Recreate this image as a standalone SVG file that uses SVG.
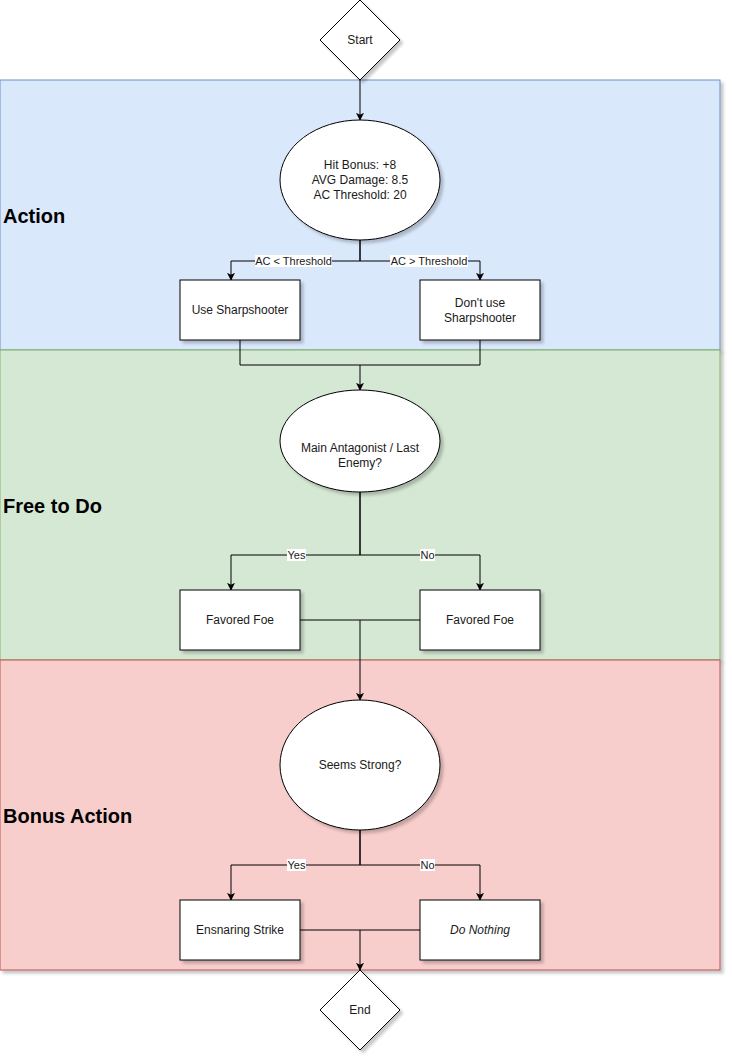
<svg xmlns="http://www.w3.org/2000/svg" width="732" height="1062" viewBox="0 0 732 1062">
<defs>
<filter id="sh" x="-10%" y="-10%" width="130%" height="130%">
<feDropShadow dx="3" dy="3" stdDeviation="1.5" flood-color="#000" flood-opacity="0.22"/>
</filter>
<marker id="arr" viewBox="0 0 10 10" refX="9" refY="5" markerWidth="8" markerHeight="8" markerUnits="userSpaceOnUse" orient="auto">
<path d="M0,0 L10,5 L0,10 L2.5,5 Z" fill="#000"/>
</marker>
</defs>
<style>
.t{font-family:"Liberation Sans",Arial,Helvetica,sans-serif;font-size:12px;fill:#1a1a1a;text-anchor:middle;dominant-baseline:central}
.lbl{font-family:"Liberation Sans",Arial,Helvetica,sans-serif;font-size:11px;fill:#1a1a1a;text-anchor:middle;dominant-baseline:central}
.lane{font-family:"Liberation Sans",Arial,Helvetica,sans-serif;font-size:20px;font-weight:bold;fill:#000;dominant-baseline:central}
.n{fill:#fff;stroke:#000;stroke-width:1;filter:url(#sh)}
.e{fill:none;stroke:#000;stroke-width:1}
.ea{fill:none;stroke:#000;stroke-width:1;marker-end:url(#arr)}
.bg{fill:#fff}
</style>
<g id="lanes">
<g id="lane-action">
<rect x="0" y="80" width="720" height="270" fill="#dae8fc" stroke="#6c8ebf" filter="url(#sh)"/>
<text class="lane" x="3" y="216">Action</text>
</g>
<g id="lane-free">
<rect x="0" y="350" width="720" height="310" fill="#d5e8d4" stroke="#82b366" filter="url(#sh)"/>
<text class="lane" x="3" y="506">Free to Do</text>
</g>
<g id="lane-bonus">
<rect x="0" y="660" width="720" height="310" fill="#f8cecc" stroke="#b85450" filter="url(#sh)"/>
<text class="lane" x="3" y="816">Bonus Action</text>
</g>
</g>
<g id="connectors">
<path class="ea" d="M360,80 L360,120"/>
<path class="ea" d="M360,240 L360,261 L231,261 L231,280"/>
<path class="ea" d="M360,240 L360,261 L480,261 L480,280"/>
<rect class="bg" x="255" y="255" width="77" height="12"/>
<text class="lbl" x="293.5" y="261">AC &lt; Threshold</text>
<rect class="bg" x="390" y="255" width="78" height="12"/>
<text class="lbl" x="429" y="261">AC &gt; Threshold</text>
<path class="e" d="M240,340 L240,365 L360,365"/>
<path class="ea" d="M480,340 L480,365 L360,365 L360,390"/>
<path class="ea" d="M360,490 L360,555 L231,555 L231,590"/>
<path class="ea" d="M360,490 L360,555 L480,555 L480,590"/>
<rect class="bg" x="287" y="549" width="19" height="12"/>
<text class="lbl" x="296.5" y="555">Yes</text>
<rect class="bg" x="420" y="549" width="15" height="12"/>
<text class="lbl" x="427.5" y="555">No</text>
<path class="e" d="M300,620 L360,620"/>
<path class="ea" d="M420,620 L360,620 L360,700"/>
<path class="ea" d="M360,830 L360,865 L231,865 L231,900"/>
<path class="ea" d="M360,830 L360,865 L480,865 L480,900"/>
<rect class="bg" x="287" y="859" width="19" height="12"/>
<text class="lbl" x="296.5" y="865">Yes</text>
<rect class="bg" x="420" y="859" width="15" height="12"/>
<text class="lbl" x="427.5" y="865">No</text>
<path class="e" d="M300,930 L360,930"/>
<path class="ea" d="M420,930 L360,930 L360,970"/>
</g>
<g id="start">
<polygon class="n" points="360,0 400,40 360,80 320,40"/>
<text class="t" x="360" y="40">Start</text>
</g>
<g id="stats">
<ellipse class="n" cx="360" cy="180" rx="80" ry="60"/>
<text class="t" x="360" y="165">Hit Bonus: +8</text>
<text class="t" x="360" y="180">AVG Damage: 8.5</text>
<text class="t" x="360" y="195">AC Threshold: 20</text>
</g>
<g id="use-ss">
<rect class="n" x="180" y="280" width="120" height="60"/>
<text class="t" x="240" y="310">Use Sharpshooter</text>
</g>
<g id="no-ss">
<rect class="n" x="420" y="280" width="120" height="60"/>
<text class="t" x="480" y="303">Don't use</text>
<text class="t" x="480" y="318">Sharpshooter</text>
</g>
<g id="antagonist">
<ellipse class="n" cx="360" cy="441" rx="80" ry="51"/>
<text class="t" x="360" y="448">Main Antagonist / Last</text>
<text class="t" x="360" y="463">Enemy?</text>
</g>
<g id="ff-yes">
<rect class="n" x="180" y="590" width="120" height="60"/>
<text class="t" x="240" y="620">Favored Foe</text>
</g>
<g id="ff-no">
<rect class="n" x="420" y="590" width="120" height="60"/>
<text class="t" x="480" y="620">Favored Foe</text>
</g>
<g id="strong">
<ellipse class="n" cx="360" cy="765" rx="80" ry="65"/>
<text class="t" x="360" y="765">Seems Strong?</text>
</g>
<g id="ensnare">
<rect class="n" x="180" y="900" width="120" height="60"/>
<text class="t" x="240" y="930">Ensnaring Strike</text>
</g>
<g id="nothing">
<rect class="n" x="420" y="900" width="120" height="60"/>
<text class="t" x="480" y="930" font-style="italic">Do Nothing</text>
</g>
<g id="end">
<polygon class="n" points="360,970 400,1010 360,1050 320,1010"/>
<text class="t" x="360" y="1010">End</text>
</g>
</svg>
